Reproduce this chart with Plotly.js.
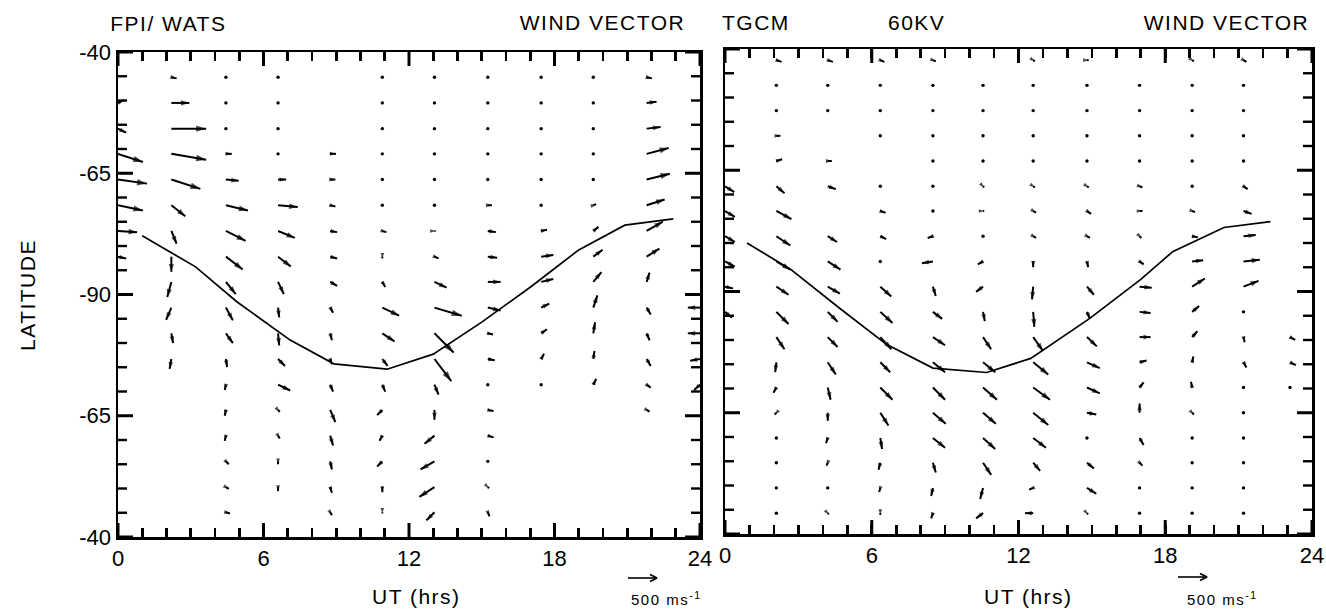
<!DOCTYPE html>
<html>
<head>
<meta charset="utf-8">
<script src="https://cdn.plot.ly/plotly-3.0.1.min.js"></script>
<style>
  html, body { margin: 0; padding: 0; background: #fff; }
  #chart { width: 1326px; height: 610px; }
  #chart .annotation-text { letter-spacing: 1.5px; }
</style>
</head>
<body>
<div id="chart"></div>
<script>
// ---- FPI / WATS wind field ----
// grid columns (UT, hours) and rows (latitude measured along the meridian through the pole;
// values below -90 lie on the far side of the pole)
const fpiCols = [0, 2.2, 4.45, 6.6, 8.75, 10.9, 13.05, 15.25, 17.45, 19.6, 21.8, 24];
const fpiRows = [-45.2, -50.5, -55.8, -61.0, -66.3, -71.6, -76.9, -82.2, -87.4,
                 -92.7, -98.0, -103.3, -108.6, -113.8, -119.1, -124.4, -129.7, -134.9];
// eastward (U) and poleward-on-plot (V) components, m/s; null = no observation
const fpiU = [
  [null,  90,   0,   0, null,   0,   0,   0,   0,   0,  90, null],
  [ 100, 310,   0,   0, null,   0,   0,   0,   0,   0, 170, null],
  [ 140, 600,   0,   0, null,   0,   0,   0,   0,   0, 240, null],
  [ 430, 600, 100,   0,  100,   0,   0,   0,   0,   0, 380, null],
  [ 500, 500, 220, 140,   90,   0,   0,   0,   0,   0, 400, null],
  [ 430, 240, 380, 340,   90,   0,   0,  70,   0,  50, 310, null],
  [ 330,  90, 340, 290,  120,  70,  20, 140, 100,  90, 280, null],
  [ 140,   0, 290, 220,  120,   0,  70, 160, 210, 160, 220, null],
  [null, -70, 170, 100,  120,  50, 210, 220, 210, 140,  50, null],
  [null, -90, 120,  20,   50, 290, 470, 220, 140,  70,  70, -210],
  [null,  30, 120,  20,   30, 210, 330,  90, 100,  30,  50, -210],
  [null, -30,  20, 120,   30,  90, 290, 120,  50,  20,  70, -170],
  [null, null, -20, 210,  50,  50,  70,   0,   0,  50,  70, -100],
  [null, null, -20,  30,  90, -90,   0, 100, null, null, 50, null],
  [null, null, -20,  30,  50, -50, -170, 100, null, null, null, null],
  [null, null,  50,   0,  30, -90, -240,   0, null, null, null, null],
  [null, null,  50,   0,  30,   0, -260,  20, null, null, null, null],
  [null, null,  70, null, 30,   0, -140,  30, null, null, null, null]
];
const fpiV = [
  [null,  -20,    0,    0, null,    0,    0,   0,    0,    0,  -20, null],
  [  50,    0,    0,    0, null,    0,    0,   0,    0,    0,   20, null],
  [ -70,    0,    0,    0, null,    0,    0,   0,    0,    0,   30, null],
  [-140, -100,    0,    0,    0,    0,    0,   0,    0,    0,  100, null],
  [ -70, -160,  -20,    0,    0,    0,    0,   0,    0,    0,  100, null],
  [ -90, -190,  -90,  -30,  -20,    0,    0,   0,    0,   20,  100, null],
  [ -20, -220, -170, -120,  -20,  -20,    0, -20,   20,   70,  160, null],
  [ -30, -260, -220, -170,  -30,  -30,  -30, -20,   30,  120,  140, null],
  [null, -260, -210, -210,  -70,  -90, -100,   0,   50,  170,  160, null],
  [null, -210, -220, -170,  -90, -140, -140, -50,   70,  210, -120,    0],
  [null, -170, -170, -210, -120, -140, -330, -20,   70,  190, -120,    0],
  [null, -170, -140, -120,  -90, -120, -380, -20,   90,  140, -120,  -30],
  [null, null,  -90, -100, -120, -120, -170,   0,    0,  100,  -50,  -90],
  [null, null, -100,  -30, -210,  -90, -170, -20, null, null,  -30, null],
  [null, null,  -90,  -50, -170,  -90, -140, -30, null, null, null, null],
  [null, null,  -50,  -50, -140,  -90, -140,   0, null, null, null, null],
  [null, null,  -30,  -70, -100,  -90, -170, -20, null, null, null, null],
  [null, null,  -20, null,  -50,  -20, -140, -70, null, null, null, null]
];
const fpiCurveUT  = [1.0, 3.2, 4.9, 7.1, 8.9, 11.1, 13.0, 15.0, 17.0, 19.0, 20.9, 22.9];
const fpiCurveLat = [-77.9, -84.3, -91.5, -99.4, -104.3, -105.4, -102.3, -95.7, -88.5, -80.8, -75.7, -74.4];

// ---- TGCM 60 kV wind field ----
const tgcmCols = [0, 2.1, 4.2, 6.35, 8.5, 10.55, 12.6, 14.8, 16.95, 19.1, 21.2, 23.1];
const tgcmRows = [-42.3, -47.5, -52.7, -57.9, -63.1, -68.3, -73.4, -78.6, -83.8, -89.0,
                  -94.2, -99.4, -104.6, -109.8, -115.0, -120.2, -125.3, -130.5, -135.7];
const tgcmU = [
  [null,  90,  90,  70,  50, null,  30,  30, null,  30,  50, null],
  [null,   0,   0,   0,   0,   0,   0,   0,   0,   0,   0, null],
  [null,   0,   0,   0,   0,   0,   0,   0,   0,   0,   0, null],
  [null,  70, null,  0,   0,   0,   0,   0,   0,   0,   0, null],
  [null, 100,  70, null,  0,   0,   0,   0,   0,   0,   0, null],
  [ 160, 140, 140,   0,   0,  20,  30,  30,  50,   0,  70, null],
  [ 170, 260, null, 90,   0,  20,  50,  70,  50,  50, 140, null],
  [ 170, 240, 160, 100, -90,   0,  50,  50,  30, 100, 210, null],
  [ 170, 240, 220,   0, -190, -90,  0,  20,  70, 190, 280, null],
  [ 140, 210, 210, 190,  50, -120, -20, 120, 210, 220, 260, null],
  [ 120, 210, 170, 210, 160,  30,  20,  50, 190, 120,   0, null],
  [null, 140, 170, 190, 210, 140, 170, 170, 190,  90,  20,  90],
  [null, -20, 140, 170, 210, 210, 260, 220, 120,  20,  50, 100],
  [null, -50,  50, 210, 210, 240, 290, 220,  70, -20,   0,   0],
  [null, -30,   0, 140, 220, 220, 260, 160,   0,  30,   0, null],
  [null,   0, -30,  30, 210, 210, 220,   0,  70,   0,   0, null],
  [null,   0, -20, -30,  50, 140, 120, 120,  50,   0,   0, null],
  [null,   0,   0, -20, -30, -50, -70, 160,   0,   0,   0, null],
  [null,   0,  20,   0, -30, -120, -140, 20,   0,   0,   0, null]
];
const tgcmV = [
  [null,  -30,  -30,  -30,  -20, null,  -20,    0, null,  -20,  -30, null],
  [null,    0,    0,    0,    0,    0,    0,    0,    0,    0,    0, null],
  [null,    0,    0,    0,    0,    0,    0,    0,    0,    0,    0, null],
  [null,    0, null,    0,    0,    0,    0,    0,    0,    0,    0, null],
  [null,   30,    0, null,    0,    0,    0,    0,    0,    0,    0, null],
  [-100, -120,  -50,    0,    0,  -20,  -20,  -20,  -20,    0,  -50, null],
  [-100, -140, null,  -30,    0,    0,  -30,  -50,    0,  -20,  -50, null],
  [-100, -160, -100,  -50,  -30,    0,  -30,  -30,  -30,  -20,   20, null],
  [ -90, -140, -140,    0,  -30,  -50, -100, -100,  -50,   20,   30, null],
  [ -30, -140, -120, -170, -160,  -90, -220, -140,  -20,  140,  100, null],
  [-100, -210, -170, -190, -120, -160, -260, -120,  -20,  100,    0, null],
  [null, -210, -170, -210, -140, -210, -240, -160,    0,  100,  -90,  -50],
  [null, -170, -210, -170, -170, -170, -210, -100,   30,  100,  -90,  -50],
  [null,  -90, -210, -210, -210, -210, -210, -100,   90,  100,    0,    0],
  [null,  -30, -140, -220, -190, -190, -210,  -30,  160,  -30,    0, null],
  [null,    0,  -90, -190, -170, -190, -170,    0, -120,    0,    0, null],
  [null,    0,  -50, -120, -170, -210, -140, -100,  -50,    0,    0, null],
  [null,    0,    0,  -70, -140, -190,  -30, -100,    0,    0,    0, null],
  [null,    0,  -20,  -30,  -90,  -90,    0,  -20,    0,    0,    0, null]
];
const tgcmCurveUT  = [0.9, 2.7, 4.7, 6.6, 8.5, 10.7, 12.5, 14.9, 17.0, 18.3, 20.4, 22.3];
const tgcmCurveLat = [-80.0, -85.5, -93.5, -100.9, -105.8, -106.7, -103.8, -95.6, -87.5, -81.8, -76.8, -75.6];

// ---- axis labelling ----
const hourTicks = [0, 6, 12, 18, 24];
const latTickVals = [-40, -65, -90, -115, -140];
const latTickText = ['-40', '-65', '-90', '-65', '-40'];
const hourStep = 1;              // small tick spacing, hours
const latStep = 5;               // small tick spacing, degrees
const scaleSpeed = 500;          // reference arrow, m/s

// ---- drawing ----
const W = 1326, H = 610;
const FONT = '"Liberation Sans", Arial, sans-serif';
const PX_PER_MS = 29 / 500;      // arrow length in pixels per m/s

// every hour gets a tick; only the labelled hours carry text
const hourAll = [], hourText = [];
for (let h = 0; h <= 24; h += hourStep) {
  hourAll.push(h);
  hourText.push(hourTicks.includes(h) ? String(h) : '');
}

const panels = [
  { cols: fpiCols, rows: fpiRows, U: fpiU, V: fpiV, cx: fpiCurveUT, cy: fpiCurveLat,
    xa: 'x', ya: 'y', xdom: [118 / W, 700 / W], ydom: [(H - 537) / H, (H - 52) / H],
    scaleAt: [628, 578] },
  { cols: tgcmCols, rows: tgcmRows, U: tgcmU, V: tgcmV, cx: tgcmCurveUT, cy: tgcmCurveLat,
    xa: 'x2', ya: 'y2', xdom: [725 / W, 1312 / W], ydom: [(H - 534) / H, (H - 49) / H],
    scaleAt: [1178, 577] }
];

const traces = [];
const shapes = [];
panels.forEach(p => {
  const pxh = (p.xdom[1] - p.xdom[0]) * W / 24;    // px per hour
  const pxd = (p.ydom[1] - p.ydom[0]) * H / 100;   // px per degree

  // longer ticks at the labelled hours and all latitude ticks, drawn inward
  const tick = (x0, y0, x1, y1, wd) => shapes.push({
    type: 'line', xref: p.xa, yref: p.ya, x0: x0, y0: y0, x1: x1, y1: y1,
    line: { color: '#000', width: wd }, layer: 'above' });
  hourTicks.forEach(h => {
    const L = 14 / pxd;
    tick(h, -140, h, -140 + L, 3);
    tick(h, -40, h, -40 - L, 3);
  });
  for (let a = -140; a <= -40; a += latStep) {
    const major = latTickVals.includes(a);
    const L = (major ? 15 : 9) / pxh, wd = major ? 3 : 2.4;
    tick(0, a, L, a, wd);
    tick(24, a, 24 - L, a, wd);
  }

  const sx = [], sy = [], hx = [], hy = [], ang = [], siz = [], dx = [], dy = [];
  p.rows.forEach((lat, r) => {
    p.cols.forEach((ut, c) => {
      const u = p.U[r][c], v = p.V[r][c];
      if (u === null || v === null) return;
      const ux = u * PX_PER_MS, vy = v * PX_PER_MS;
      const len = Math.hypot(ux, vy);
      if (len < 1) { dx.push(ut); dy.push(lat); return; }
      const x1 = ut + ux / pxh, y1 = lat + vy / pxd;
      sx.push(ut, x1, null); sy.push(lat, y1, null);
      hx.push(x1); hy.push(y1);
      ang.push(Math.atan2(u, v) * 180 / Math.PI);
      siz.push(Math.max(5.5, Math.min(10.5, 5.5 + len * 0.18)));
    });
  });
  // boundary curve
  traces.push({ type: 'scatter', mode: 'lines', x: p.cx, y: p.cy, xaxis: p.xa, yaxis: p.ya,
    line: { color: '#000', width: 1.7 }, hoverinfo: 'skip', showlegend: false });
  // vector shafts
  traces.push({ type: 'scatter', mode: 'lines', x: sx, y: sy, xaxis: p.xa, yaxis: p.ya,
    line: { color: '#000', width: 2 }, hoverinfo: 'skip', showlegend: false, connectgaps: false });
  // vector heads
  traces.push({ type: 'scatter', mode: 'markers', x: hx, y: hy, xaxis: p.xa, yaxis: p.ya,
    marker: { symbol: 'arrow', size: siz, angle: ang, color: '#000', line: { width: 0 } },
    hoverinfo: 'skip', showlegend: false });
  // calm points
  traces.push({ type: 'scatter', mode: 'markers', x: dx, y: dy, xaxis: p.xa, yaxis: p.ya,
    marker: { symbol: 'circle', size: 3.4, color: '#000', line: { width: 0 } },
    hoverinfo: 'skip', showlegend: false });
  // reference arrow under the panel, on a page-pixel overlay axis pair
  const tx = p.scaleAt[0], ty = p.scaleAt[1];
  const ex = tx + scaleSpeed * PX_PER_MS;
  traces.push({ type: 'scatter', mode: 'lines',
    x: [tx, ex, null, ex - 7, ex, ex - 7],
    y: [ty, ty, null, ty - 3.5, ty, ty + 3.5],
    xaxis: 'x3', yaxis: 'y3', line: { color: '#000', width: 1.6 },
    hoverinfo: 'skip', showlegend: false });
});

const tickFont = { family: FONT, size: 22, color: '#000' };
function xAxis(dom, anchor) {
  return {
    domain: dom, anchor: anchor, range: [0, 24], tickmode: 'array',
    tickvals: hourAll, ticktext: hourText,
    ticks: 'inside', ticklen: 9, tickwidth: 2.6, tickcolor: '#000',
    showline: true, linecolor: '#000', linewidth: 2.5, mirror: 'allticks',
    showgrid: false, zeroline: false, tickfont: tickFont, fixedrange: true
  };
}
function yAxis(dom, anchor, labels) {
  return {
    domain: dom, anchor: anchor, range: [-140, -40], tickmode: 'array',
    tickvals: latTickVals, ticktext: latTickText, showticklabels: labels,
    ticks: '', showline: true, linecolor: '#000', linewidth: 2.5, mirror: true,
    showgrid: false, zeroline: false, tickfont: tickFont, fixedrange: true
  };
}

function txt(text, xpx, ypx, xanchor, size, extra) {
  return Object.assign({
    text: text, xref: 'paper', yref: 'paper', x: xpx / W, y: 1 - ypx / H,
    xanchor: xanchor, yanchor: 'middle', showarrow: false,
    font: { family: FONT, size: size, color: '#000' }
  }, extra || {});
}

const layout = {
  width: W, height: H, margin: { l: 0, r: 0, t: 0, b: 0 },
  paper_bgcolor: '#fff', plot_bgcolor: 'rgba(0,0,0,0)', showlegend: false,
  xaxis: xAxis(panels[0].xdom, 'y'),
  yaxis: yAxis(panels[0].ydom, 'x', true),
  xaxis2: xAxis(panels[1].xdom, 'y2'),
  yaxis2: yAxis(panels[1].ydom, 'x2', false),
  // page-pixel frame used for the reference arrows below the panels
  xaxis3: { domain: [0, 1], anchor: 'y3', range: [0, W], visible: false, fixedrange: true },
  yaxis3: { domain: [0, 1], anchor: 'x3', range: [H, 0], visible: false, fixedrange: true },
  shapes: shapes,
  annotations: [
    txt('FPI/ WATS', 115, 24, 'left', 21),
    txt('WIND VECTOR', 679, 23, 'right', 21),
    txt('TGCM', 723, 23, 'left', 21),
    txt('60KV', 889, 23, 'left', 21),
    txt('WIND VECTOR', 1303, 23, 'right', 21),
    txt('LATITUDE', 27, 295, 'center', 21, { textangle: -90 }),
    txt('UT (hrs)', 416, 596, 'center', 21),
    txt('UT (hrs)', 1028, 596, 'center', 21),
    txt('500 ms<sup>-1</sup>', 666, 598, 'center', 15),
    txt('500 ms<sup>-1</sup>', 1222, 598, 'center', 15)
  ]
};

Plotly.newPlot('chart', traces, layout, { staticPlot: true, displayModeBar: false });
</script>
</body>
</html>
